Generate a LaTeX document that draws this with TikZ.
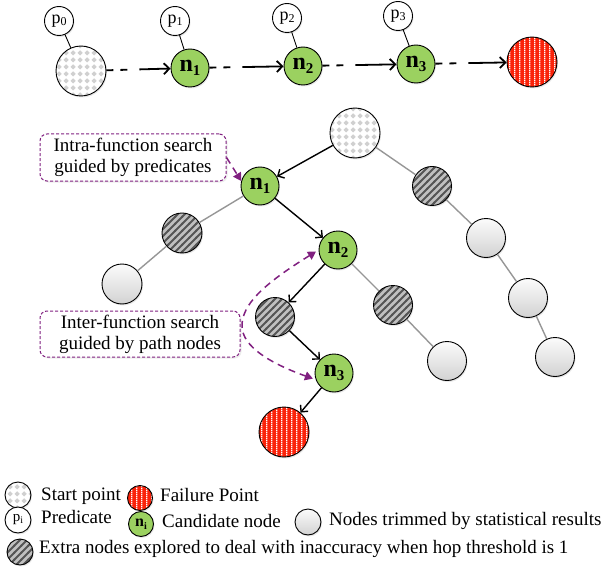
\documentclass[tikz,border=0pt]{standalone}
\usepackage{fontspec}
\setmainfont{Liberation Serif}
\usetikzlibrary{arrows.meta,patterns,shadows}

\pgfdeclarepatternformonly{sdiam}{\pgfpointorigin}{\pgfqpoint{7pt}{7pt}}{\pgfqpoint{7pt}{7pt}}{%
  \pgfpathmoveto{\pgfqpoint{3.5pt}{0.6pt}}%
  \pgfpathlineto{\pgfqpoint{6.4pt}{3.5pt}}%
  \pgfpathlineto{\pgfqpoint{3.5pt}{6.4pt}}%
  \pgfpathlineto{\pgfqpoint{0.6pt}{3.5pt}}%
  \pgfpathclose\pgfusepath{fill}}
\pgfdeclarepatternformonly{nestripe}{\pgfqpoint{-1pt}{-1pt}}{\pgfqpoint{8pt}{8pt}}{\pgfqpoint{7pt}{7pt}}{%
  \pgfsetlinewidth{2pt}%
  \pgfpathmoveto{\pgfqpoint{-1pt}{-1pt}}\pgfpathlineto{\pgfqpoint{8pt}{8pt}}\pgfusepath{stroke}}
\pgfdeclarepatternformonly{vstripe}{\pgfpointorigin}{\pgfqpoint{4.5pt}{2pt}}{\pgfqpoint{4.5pt}{2pt}}{%
  \pgfpathrectangle{\pgfqpoint{0pt}{0pt}}{\pgfqpoint{1.4pt}{2pt}}\pgfusepath{fill}}

\definecolor{cgreen}{RGB}{155,209,96}
\definecolor{cpurple}{RGB}{128,32,128}
\definecolor{cred}{RGB}{250,35,10}
\definecolor{hatchbg}{RGB}{192,192,192}
\definecolor{hatchfg}{RGB}{85,85,85}
\definecolor{diamc}{RGB}{208,208,208}
\definecolor{edgegray}{RGB}{150,150,150}

\newcommand\nlab[1]{\fontsize{24}{24}\selectfont\bfseries n\raisebox{-4pt}{\fontsize{15}{15}\selectfont #1}}
\newcommand\nsmall[1]{\fontsize{16}{16}\selectfont\bfseries n\raisebox{-3pt}{\fontsize{10}{10}\selectfont #1}}
\newcommand\plab[1]{\fontsize{18}{18}\selectfont p\raisebox{-2pt}{\fontsize{12}{12}\selectfont #1}}

\tikzset{
  base/.style={circle, draw=black, line width=0.9pt, inner sep=0pt,
    drop shadow={opacity=0.18, shadow xshift=1pt, shadow yshift=-1.5pt}},
  startn/.style={base, minimum size=#1, preaction={fill=white}, pattern=sdiam, pattern color=diamc},
  failn/.style={base, minimum size=#1, preaction={fill=cred}, pattern=vstripe, pattern color=white},
  candn/.style={base, minimum size=#1, fill=cgreen},
  hatchn/.style={base, minimum size=#1, preaction={fill=hatchbg}, pattern=nestripe, pattern color=hatchfg},
  trimn/.style={base, minimum size=#1, top color=gray!3, bottom color=gray!35},
  predn/.style={base, minimum size=#1, fill=white},
  barrow/.style={draw=black, line width=1.4pt, -{Straight Barb[length=5pt,width=10pt]}},
  tarrow/.style={draw=black, line width=1.8pt, -{Straight Barb[length=5.5pt,width=11pt]},
    dash pattern=on 7pt off 7pt on 7pt off 12pt on 200pt off 0pt},
  gline/.style={draw=edgegray, line width=1.4pt},
  plink/.style={draw=black, line width=0.9pt},
  pbox/.style={draw=cpurple, dash pattern=on 3pt off 2pt, line width=1pt, rounded corners=7pt,
    fill=white, drop shadow={opacity=0.15, shadow xshift=1.5pt, shadow yshift=-1.5pt},
    align=center, inner sep=0pt, font=\fontsize{19}{21}\selectfont},
  parrow/.style={draw=cpurple, line width=1.5pt, dash pattern=on 7pt off 5pt,
    -{Triangle[length=8pt,width=9pt]}},
  ptext/.style={anchor=base west, inner sep=0pt, font=\fontsize{19}{21}\selectfont}
}

\begin{document}
\begin{tikzpicture}[x=1pt,y=-1pt]
\useasboundingbox (0,0) rectangle (605,567);

% ---- top row ----
\node[startn=50pt] (st) at (81,71) {};
\node[candn=38pt] (a1) at (190,68) {\nlab{1}};
\node[candn=38pt] (a2) at (303,66) {\nlab{2}};
\node[candn=38pt] (a3) at (416,64) {\nlab{3}};
\node[failn=50pt] (af) at (532,62) {};
\node[predn=29pt] (p0) at (59,21) {\plab{0}};
\node[predn=29pt] (p1) at (175,21) {\plab{1}};
\node[predn=29pt] (p2) at (287,18) {\plab{2}};
\node[predn=29pt] (p3) at (398,16) {\plab{3}};
\draw[plink] (p0) -- (st);
\draw[plink] (p1) -- (a1);
\draw[plink] (p2) -- (a2);
\draw[plink] (p3) -- (a3);
\draw[tarrow] (st) -- (a1);
\draw[tarrow] (a1) -- (a2);
\draw[tarrow] (a2) -- (a3);
\draw[tarrow] (a3) -- (af);

% ---- tree ----
\node[startn=50pt] (root) at (355,133) {};
\node[candn=38pt] (t1) at (260,186) {\nlab{1}};
\node[hatchn=40pt] (hA) at (182,233) {};
\node[trimn=40pt] (gA) at (122,284) {};
\node[candn=38pt] (t2) at (338,250) {\nlab{2}};
\node[hatchn=39pt] (hR) at (432,186) {};
\node[trimn=39pt] (gR2) at (486,238) {};
\node[trimn=39pt] (gR3) at (528,298) {};
\node[trimn=39pt] (gR4) at (555,357) {};
\node[hatchn=39pt] (hM) at (393,305) {};
\node[trimn=39pt] (gM) at (447,361) {};
\node[hatchn=39pt] (hL) at (275,317) {};
\node[candn=38pt] (t3) at (334,373) {\nlab{3}};
\node[failn=50pt] (tf) at (284,432) {};

\draw[gline] (root) -- (hR);
\draw[gline] (hR) -- (gR2);
\draw[gline] (gR2) -- (gR3);
\draw[gline] (gR3) -- (gR4);
\draw[gline] (t1) -- (hA);
\draw[gline] (hA) -- (gA);
\draw[gline] (t2) -- (hM);
\draw[gline] (hM) -- (gM);
\draw[barrow] (root) -- (t1);
\draw[barrow] (t1) -- (t2);
\draw[barrow] (t2) -- (hL);
\draw[barrow] (hL) -- (t3);
\draw[barrow] (t3) -- (tf);

% ---- annotation boxes ----
\node[pbox, minimum width=186pt, minimum height=47pt] (b1) at (133,157.5)
  {Intra-function search\\guided by predicates};
\node[pbox, minimum width=200pt, minimum height=46pt] (b2) at (140,334)
  {Inter-function search\\guided by path nodes};
\draw[parrow] (b1.east) -- (t1.165);
\coordinate (bend) at (242,326);
\draw[parrow, {Triangle[length=8pt,width=9pt]}-{Triangle[length=8pt,width=9pt]}, shorten <=3pt, shorten >=3pt]
  (t2.west) .. controls (262,285) and (242,305) .. (bend)
  .. controls (242,347) and (272,364) .. (t3.200);

% ---- legend ----
\node[startn=26pt] (ls) at (18,495) {};
\node[ptext] (lst) at (41,500) {Start point};
\node[failn=25pt] (lf) at (140,498) {};
\node[ptext] (lft) at (160,501) {Failure Point};
\node[predn=26pt] (lp) at (18,520) {\fontsize{15}{15}\selectfont p\raisebox{-2pt}{\fontsize{10}{10}\selectfont i}};
\node[ptext] (lpt) at (41,523) {Predicate};
\node[candn=25pt] (ln) at (141,524) {\nsmall{i}};
\node[ptext] (lnt) at (162,527) {Candidate node};
\node[trimn=26pt] (lg) at (308,522) {};
\node[ptext] (lgt) at (329,525) {Nodes trimmed by statistical results};
\node[hatchn=26pt] (lh) at (20,552) {};
\node[ptext] (lht) at (39,553) {Extra nodes explored to deal with inaccuracy when hop threshold is 1};
\end{tikzpicture}
\end{document}
